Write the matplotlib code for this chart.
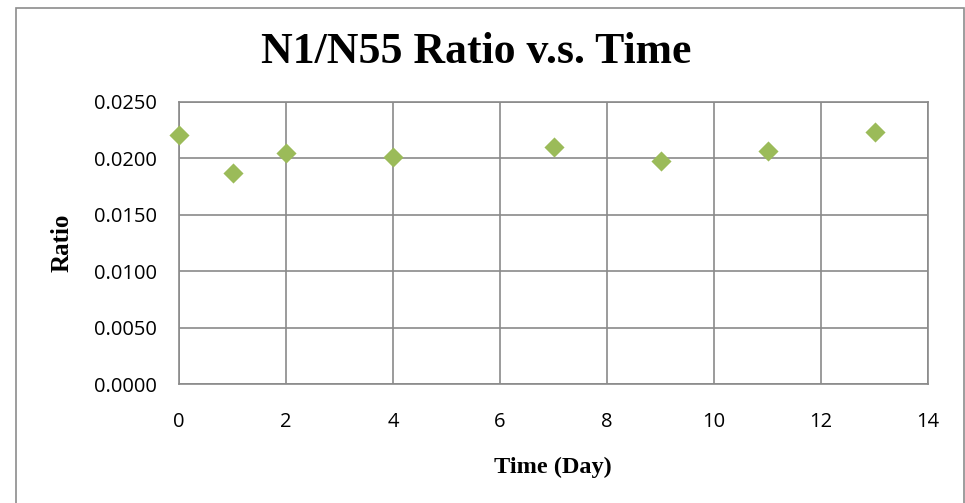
import matplotlib
matplotlib.use("Agg")
import matplotlib.pyplot as plt
from matplotlib.patches import Rectangle

days = [0, 1, 2, 4, 7, 9, 11, 13]
ratio = [0.0221, 0.0187, 0.0205, 0.0201, 0.0210, 0.0198, 0.0207, 0.0223]
x_ticks = [0, 2, 4, 6, 8, 10, 12, 14]
y_ticks = [0.0, 0.005, 0.010, 0.015, 0.020, 0.025]
title = "N1/N55 Ratio v.s. Time"
xlabel = "Time (Day)"
ylabel = "Ratio"

W, H = 965, 503
fig = plt.figure(figsize=(W / 100, H / 100), dpi=100)
fig.patch.set_facecolor("white")

# outer chart frame
fig.patches.append(Rectangle((16 / W, -0.05), (964 - 16) / W, 1.05 - 8 / H,
                             transform=fig.transFigure, fill=False,
                             edgecolor="#8c8c8c", linewidth=1.2, clip_on=False))

left, right, top, bottom = 179, 928, 102, 384
ax = fig.add_axes([left / W, 1 - bottom / H, (right - left) / W, (bottom - top) / H])

grid_color = "#8a8a8a"
ax.scatter(days, ratio, marker="D", s=105, color="#9BBB59", zorder=3, linewidths=0,
           clip_on=False)
ax.set_xlim(0, 14)
ax.set_ylim(0, 0.025)
ax.set_xticks(x_ticks)
ax.set_yticks(y_ticks)
ax.set_xticklabels([str(t) for t in x_ticks])
ax.set_yticklabels([f"{t:.4f}" for t in y_ticks])
ax.grid(True, color=grid_color, linewidth=1.2)
ax.set_axisbelow(True)
for s in ax.spines.values():
    s.set_color(grid_color)
    s.set_linewidth(1.2)
ax.tick_params(length=0, labelsize=14.5, colors="black")
ax.tick_params(axis="x", pad=20)
ax.tick_params(axis="y", pad=16)
for lab in ax.get_xticklabels() + ax.get_yticklabels():
    lab.set_fontfamily("Open Sans")

fig.text(476 / W, 1 - 52 / H, title, ha="center", va="center",
         fontfamily="Liberation Serif", fontweight="bold", fontsize=31.5)
fig.text(553 / W, 1 - 467 / H, xlabel, ha="center", va="center",
         fontfamily="Liberation Serif", fontweight="bold", fontsize=17.5)
fig.text(62 / W, 1 - 243 / H, ylabel, ha="center", va="center", rotation=90,
         fontfamily="Liberation Serif", fontweight="bold", fontsize=18)

fig.savefig("out.png", dpi=100, facecolor="white")
